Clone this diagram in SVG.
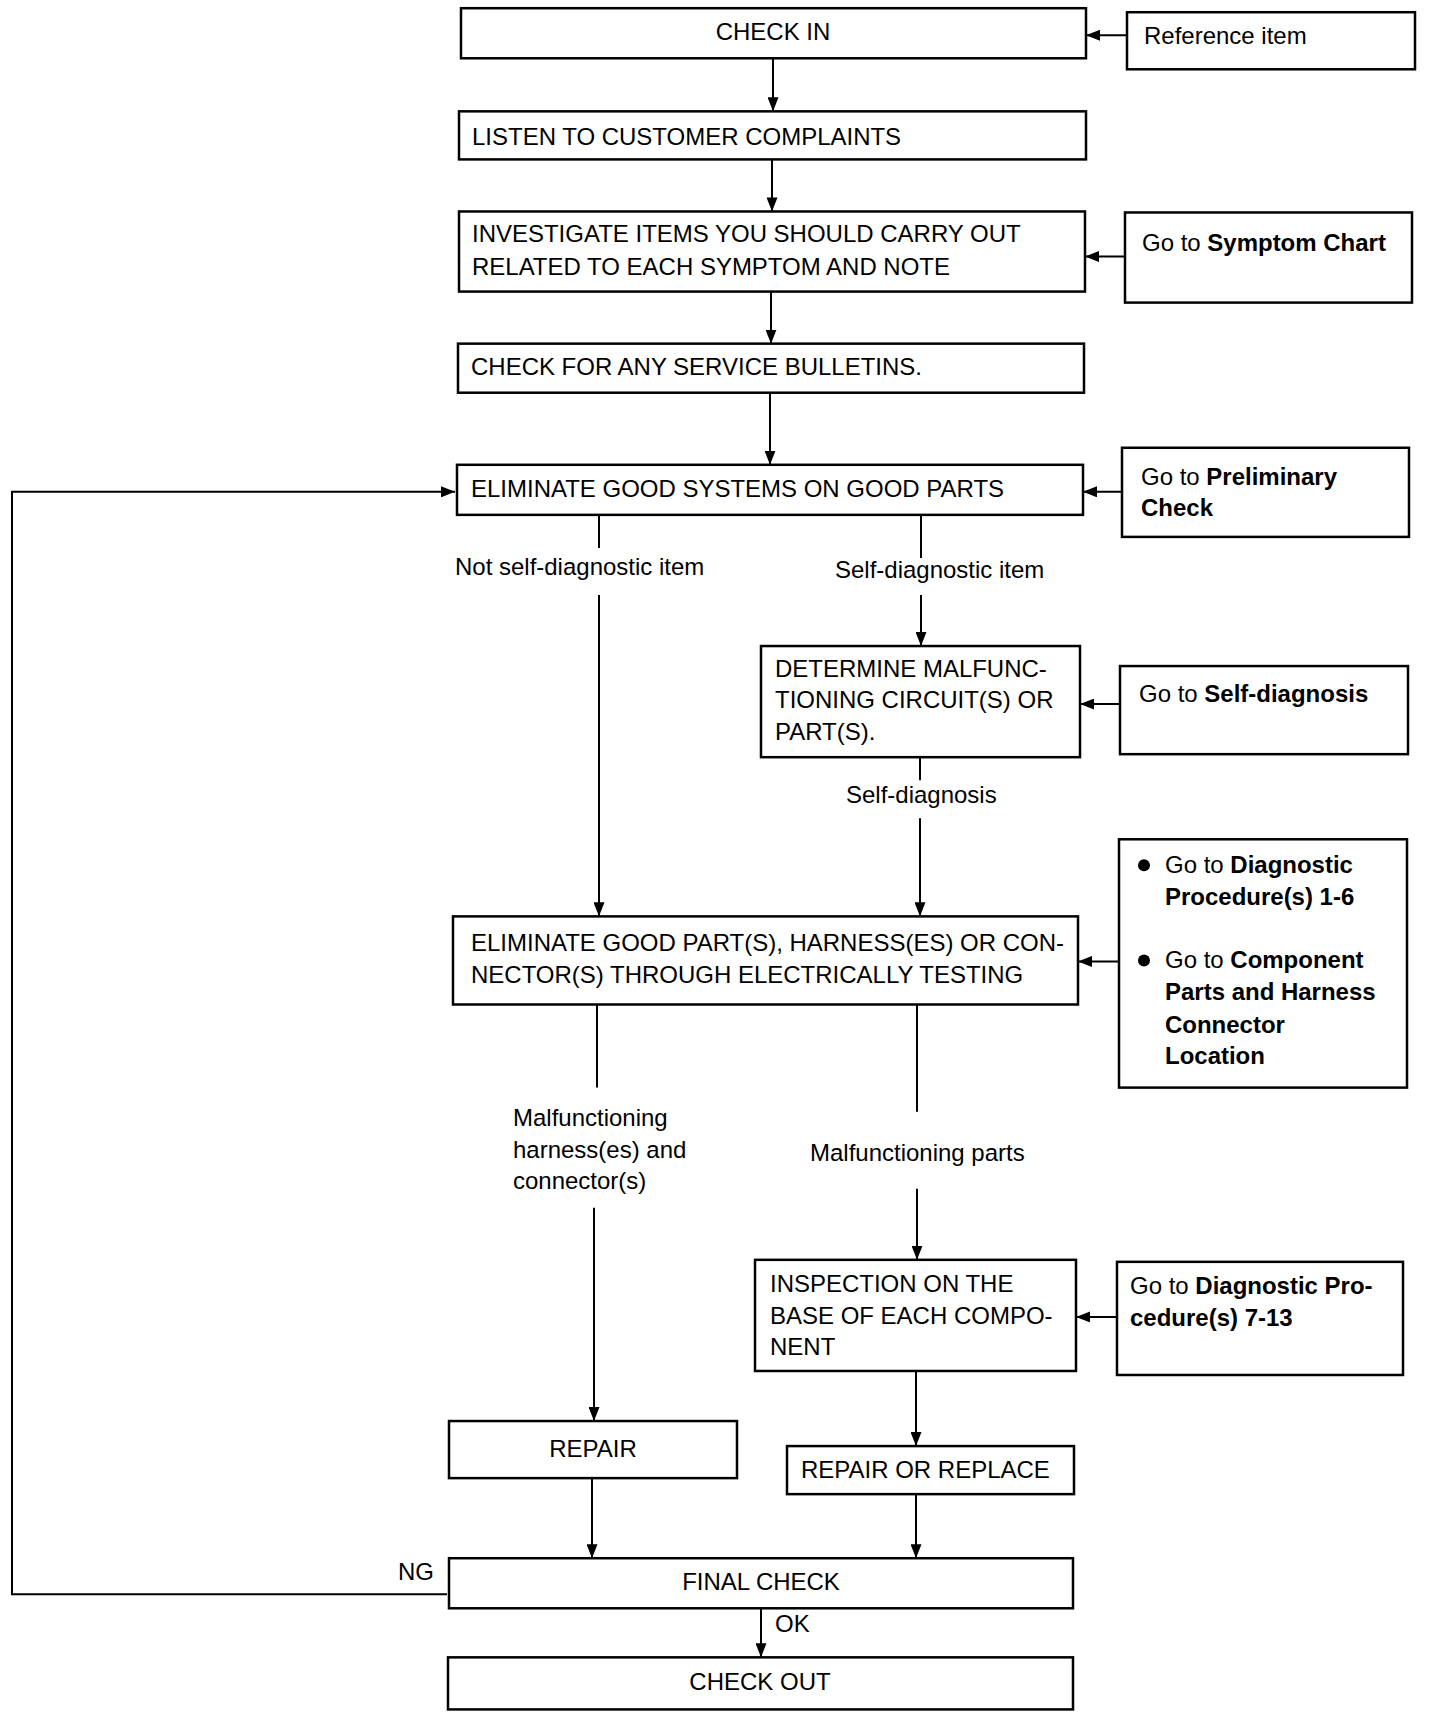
<svg xmlns="http://www.w3.org/2000/svg" width="1440" height="1718" viewBox="0 0 1440 1718">
<style>
text{font-family:"Liberation Sans",Arial,sans-serif;font-size:24px;fill:#000}
.b{font-weight:bold}
.c{text-anchor:middle}
.box{fill:#fff;stroke:#000;stroke-width:2.5}
.ln{fill:none;stroke:#000;stroke-width:2}
</style>
<defs>
<marker id="arr" markerUnits="userSpaceOnUse" markerWidth="14" markerHeight="11" viewBox="0 0 14 11" refX="14" refY="5.5" orient="auto">
<path d="M0,0 L14,5.5 L0,11 z" fill="#000"/>
</marker>
</defs>
<g transform="matrix(1,0,0,1.0013,0,2.2)">
<g id="connectors">
<line class="ln" x1="773" y1="56" x2="773" y2="109" marker-end="url(#arr)"/>
<line class="ln" x1="772" y1="157" x2="772" y2="209" marker-end="url(#arr)"/>
<line class="ln" x1="771" y1="289" x2="771" y2="341" marker-end="url(#arr)"/>
<line class="ln" x1="770" y1="390" x2="770" y2="462" marker-end="url(#arr)"/>
<line class="ln" x1="1127" y1="33" x2="1086" y2="33" marker-end="url(#arr)"/>
<line class="ln" x1="1125" y1="254" x2="1085" y2="254" marker-end="url(#arr)"/>
<line class="ln" x1="1122" y1="489" x2="1083" y2="489" marker-end="url(#arr)"/>
<line class="ln" x1="1120" y1="701" x2="1080" y2="701" marker-end="url(#arr)"/>
<line class="ln" x1="1119" y1="958" x2="1078" y2="958" marker-end="url(#arr)"/>
<line class="ln" x1="1117" y1="1313" x2="1076" y2="1313" marker-end="url(#arr)"/>
<line class="ln" x1="599" y1="512" x2="599" y2="545"/>
<line class="ln" x1="599" y1="592" x2="599" y2="913" marker-end="url(#arr)"/>
<line class="ln" x1="921" y1="512" x2="921" y2="555"/>
<line class="ln" x1="921" y1="592" x2="921" y2="643" marker-end="url(#arr)"/>
<line class="ln" x1="920" y1="754" x2="920" y2="777"/>
<line class="ln" x1="920" y1="815" x2="920" y2="913" marker-end="url(#arr)"/>
<line class="ln" x1="597" y1="1001" x2="597" y2="1084"/>
<line class="ln" x1="594" y1="1204" x2="594" y2="1417" marker-end="url(#arr)"/>
<line class="ln" x1="917" y1="1001" x2="917" y2="1108"/>
<line class="ln" x1="917" y1="1185" x2="917" y2="1256" marker-end="url(#arr)"/>
<line class="ln" x1="916" y1="1367" x2="916" y2="1442" marker-end="url(#arr)"/>
<line class="ln" x1="592" y1="1474" x2="592" y2="1554" marker-end="url(#arr)"/>
<line class="ln" x1="916" y1="1490" x2="916" y2="1554" marker-end="url(#arr)"/>
<line class="ln" x1="761" y1="1604" x2="761" y2="1653" marker-end="url(#arr)"/>
<path class="ln" d="M447,1590 H12 V489 H455" marker-end="url(#arr)"/>
<text x="835" y="575">Self-diagnostic item</text>
<text x="455" y="572">Not self-diagnostic item</text>
<text x="846" y="800">Self-diagnosis</text>
<text x="513" y="1122">Malfunctioning</text>
<text x="513" y="1154">harness(es) and</text>
<text x="513" y="1185">connector(s)</text>
<text x="810" y="1157">Malfunctioning parts</text>
<text x="398" y="1576">NG</text>
<text x="775" y="1628">OK</text>
</g>
<g id="check-in"><rect class="box" x="461" y="6" width="625" height="50"/><text class="c" x="773" y="38">CHECK IN</text></g>
<g id="reference-item"><rect class="box" x="1127" y="10" width="288" height="57"/><text x="1144" y="42">Reference item</text></g>
<g id="listen"><rect class="box" x="459" y="109" width="627" height="48"/><text x="472" y="143">LISTEN TO CUSTOMER COMPLAINTS</text></g>
<g id="investigate"><rect class="box" x="459" y="209" width="626" height="80"/><text x="472" y="240">INVESTIGATE ITEMS YOU SHOULD CARRY OUT</text><text x="472" y="272">RELATED TO EACH SYMPTOM AND NOTE</text></g>
<g id="symptom-chart"><rect class="box" x="1125" y="210" width="287" height="90"/><text x="1142" y="248">Go to <tspan class="b">Symptom Chart</tspan></text></g>
<g id="service-bulletins"><rect class="box" x="458" y="341" width="626" height="49"/><text x="471" y="372">CHECK FOR ANY SERVICE BULLETINS.</text></g>
<g id="eliminate-systems"><rect class="box" x="457" y="462" width="626" height="50"/><text x="471" y="494">ELIMINATE GOOD SYSTEMS ON GOOD PARTS</text></g>
<g id="preliminary-check"><rect class="box" x="1122" y="445" width="287" height="89"/><text x="1141" y="482">Go to <tspan class="b">Preliminary</tspan></text><text class="b" x="1141" y="513">Check</text></g>
<g id="determine"><rect class="box" x="761" y="643" width="319" height="111"/><text x="775" y="674">DETERMINE MALFUNC-</text><text x="775" y="705">TIONING CIRCUIT(S) OR</text><text x="775" y="737">PART(S).</text></g>
<g id="self-diagnosis"><rect class="box" x="1120" y="663" width="288" height="88"/><text x="1139" y="699">Go to <tspan class="b">Self-diagnosis</tspan></text></g>
<g id="eliminate-parts"><rect class="box" x="453" y="913" width="625" height="88"/><text x="471" y="948">ELIMINATE GOOD PART(S), HARNESS(ES) OR CON-</text><text x="471" y="980">NECTOR(S) THROUGH ELECTRICALLY TESTING</text></g>
<g id="diagnostic-procedures-1-6"><rect class="box" x="1119" y="836" width="288" height="248"/>
<circle cx="1144" cy="862" r="6"/><circle cx="1144" cy="957" r="6"/>
<text x="1165" y="870">Go to <tspan class="b">Diagnostic</tspan></text>
<text class="b" x="1165" y="902">Procedure(s) 1-6</text>
<text x="1165" y="965">Go to <tspan class="b">Component</tspan></text>
<text class="b" x="1165" y="997">Parts and Harness</text>
<text class="b" x="1165" y="1029">Connector</text>
<text class="b" x="1165" y="1060">Location</text></g>
<g id="inspection"><rect class="box" x="755" y="1256" width="321" height="111"/><text x="770" y="1288">INSPECTION ON THE</text><text x="770" y="1320">BASE OF EACH COMPO-</text><text x="770" y="1351">NENT</text></g>
<g id="diagnostic-procedures-7-13"><rect class="box" x="1117" y="1258" width="286" height="113"/><text x="1130" y="1290">Go to <tspan class="b">Diagnostic Pro-</tspan></text><text class="b" x="1130" y="1322">cedure(s) 7-13</text></g>
<g id="repair"><rect class="box" x="449" y="1417" width="288" height="57"/><text class="c" x="593" y="1453">REPAIR</text></g>
<g id="repair-or-replace"><rect class="box" x="787" y="1442" width="287" height="48"/><text x="801" y="1474">REPAIR OR REPLACE</text></g>
<g id="final-check"><rect class="box" x="449" y="1554" width="624" height="50"/><text class="c" x="761" y="1586">FINAL CHECK</text></g>
<g id="check-out"><rect class="box" x="448" y="1653" width="625" height="52"/><text class="c" x="760" y="1686">CHECK OUT</text></g>
</g>
</svg>
